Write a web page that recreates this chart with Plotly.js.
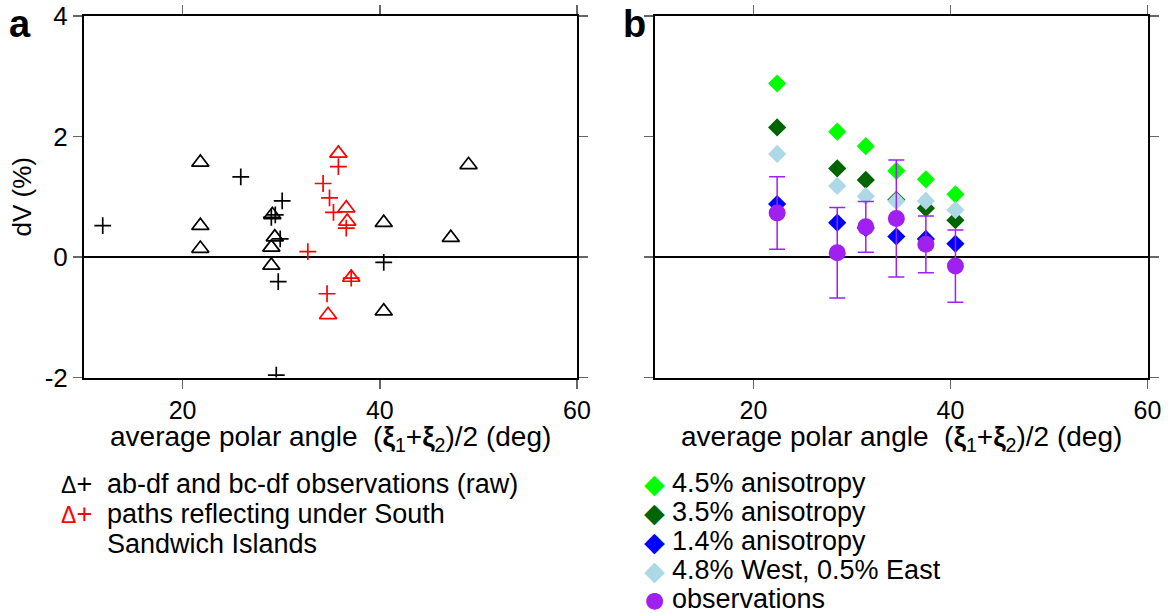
<!DOCTYPE html>
<html>
<head>
<meta charset="utf-8">
<script src="https://cdn.plot.ly/plotly-3.0.1.min.js"></script>
<style>html,body{margin:0;padding:0;background:#fff;}#chart{width:1169px;height:613px;}</style>
</head>
<body>
<div id="chart"></div>
<script>
// Panel a: raw observations
var blackTriX = [21.8, 21.8, 21.8, 29.1, 29.35, 29.0, 29.0, 40.4, 40.4, 49.0, 47.2];
var blackTriY = [1.57, 0.52, 0.14, 0.70, 0.33, 0.16, -0.14, 0.57, -0.90, 1.53, 0.32];
var blackPlusX = [11.9, 25.9, 30.1, 29.0, 29.4, 29.9, 29.7, 40.4, 29.5];
var blackPlusY = [0.52, 1.33, 0.93, 0.66, 0.70, 0.30, -0.41, -0.09, -1.96];
var redTriX = [35.8, 36.6, 36.7, 37.1, 34.75];
var redTriY = [1.72, 0.81, 0.59, -0.34, -0.96];
var redPlusX = [35.8, 34.25, 34.9, 35.3, 36.6, 32.7, 37.1, 34.65];
var redPlusY = [1.50, 1.22, 0.98, 0.74, 0.48, 0.09, -0.35, -0.61];

// Panel b: models and binned observations
var angleB = [22.4, 28.5, 31.4, 34.5, 37.5, 40.5];
var aniso45 = [2.88, 2.08, 1.84, 1.43, 1.29, 1.04];
var aniso35 = [2.15, 1.47, 1.28, 0.95, 0.81, 0.61];
var westEast = [1.71, 1.18, 1.01, 0.93, 0.93, 0.78];
var aniso14 = [0.88, 0.57, 0.48, 0.34, 0.30, 0.22];
var obs = [0.73, 0.07, 0.50, 0.64, 0.21, -0.15];
var obsErr = [0.60, 0.75, 0.42, 0.97, 0.47, 0.60];

var xTickVals = [20, 40, 60];
var yTickVals = [-2, 0, 2, 4];
var legendA = ['ab-df and bc-df observations (raw)', 'paths reflecting under South', 'Sandwich Islands'];
var legendB = ['4.5% anisotropy', '3.5% anisotropy', '1.4% anisotropy', '4.8% West, 0.5% East', 'observations'];
var colorsB = ['#00ff00', '#006400', '#0000ff', '#add8e6', '#a020f0'];

var FONT = 'Liberation Sans, Arial, Helvetica, sans-serif';
var W = 1169, H = 613;
function px(x){return x / W;}
function py(y){return 1 - y / H;}

function tri(x, y, c){
  return {x:x, y:y, xaxis:'x', yaxis:'y', type:'scatter', mode:'markers', showlegend:false,
    marker:{symbol:'triangle-up-open', size:15, color:c, line:{color:c, width:1.7}}};
}
function plus(x, y, c){
  return {x:x, y:y, xaxis:'x', yaxis:'y', type:'scatter', mode:'markers', showlegend:false,
    marker:{symbol:'cross-thin-open', size:12, color:c, line:{color:c, width:1.7}}};
}
function dia(y, c){
  return {x:angleB, y:y, xaxis:'x2', yaxis:'y2', type:'scatter', mode:'markers', showlegend:false,
    marker:{symbol:'diamond', size:14, color:c, line:{width:0}}};
}

var traces = [
  tri(blackTriX, blackTriY, '#000'),
  plus(blackPlusX, blackPlusY, '#000'),
  tri(redTriX, redTriY, '#ff0000'),
  plus(redPlusX, redPlusY, '#ff0000'),
  dia(aniso45, colorsB[0]),
  dia(aniso35, colorsB[1]),
  dia(westEast, colorsB[3]),
  dia(aniso14, colorsB[2]),
  {x:angleB, y:obs, xaxis:'x2', yaxis:'y2', type:'scatter', mode:'markers', showlegend:false,
   error_y:{type:'data', array:obsErr, visible:true, color:colorsB[4], thickness:1.5, width:8},
   marker:{symbol:'circle', size:17, color:colorsB[4], line:{width:0}}}
];

var XI = '<b>ξ</b>';
var XTITLE = 'average polar angle  (' + XI + '<sub>1</sub>+' + XI + '<sub>2</sub>)/2 (deg)';

function xax(domain){
  return {domain:domain, range:[10,60], tickvals:xTickVals, ticktext:xTickVals.map(String),
    ticks:'outside', ticklen:9, tickwidth:1.5, tickcolor:'#666',
    showline:true, linewidth:2, linecolor:'#000', mirror:'allticks',
    showgrid:false, zeroline:false, tickfont:{family:FONT, size:25, color:'#000'},
    fixedrange:true};
}
function yax(domain, anchor, labels){
  return {domain:domain, anchor:anchor, range:[-2,4], tickvals:yTickVals, ticktext:yTickVals.map(String),
    ticks:'outside', ticklen:9, tickwidth:1.5, tickcolor:'#666',
    showline:true, linewidth:2, linecolor:'#000', mirror:'allticks',
    showgrid:false, zeroline:true, zerolinecolor:'#000', zerolinewidth:1.5,
    showticklabels:labels, tickfont:{family:FONT, size:26, color:'#000'},
    fixedrange:true};
}

var yDom = [py(377.5), py(16)];
var layout = {
  width:W, height:H, margin:{l:0, r:0, t:0, b:0},
  paper_bgcolor:'#fff', plot_bgcolor:'#fff',
  font:{family:FONT, size:26, color:'#000'},
  xaxis: Object.assign(xax([px(84), px(577)]), {anchor:'y'}),
  yaxis: Object.assign(yax(yDom, 'x', true), {title:{text:'dV (%)', font:{family:FONT, size:26, color:'#000'}, standoff:6}}),
  xaxis2: Object.assign(xax([px(655), px(1147.5)]), {anchor:'y2'}),
  yaxis2: yax(yDom, 'x2', false),
  annotations: [],
  showlegend:false
};

var ann = layout.annotations;
function addText(x, y, text, opts){
  var a = Object.assign({xref:'paper', yref:'paper', x:px(x), y:py(y), text:text, showarrow:false,
    xanchor:'left', yanchor:'middle', align:'left', font:{family:FONT, size:27, color:'#000'}}, opts || {});
  ann.push(a);
}
// x-axis titles
addText(330.5, 438, XTITLE, {xanchor:'center', font:{family:FONT, size:28, color:'#000'}});
addText(901, 438, XTITLE, {xanchor:'center', font:{family:FONT, size:28, color:'#000'}});

// panel letters
addText(20, 24, '<b>a</b>', {xanchor:'center', font:{family:FONT, size:38, color:'#000'}});
addText(634, 24, '<b>b</b>', {xanchor:'center', font:{family:FONT, size:38, color:'#000'}});

// legend a
var rowA = [484, 514, 544];
addText(59, rowA[0], '<span style="font-size:23px">Δ</span>+', {font:{family:FONT, size:27, color:'#000'}});
addText(59, rowA[1], '<span style="font-size:23px">Δ</span>+', {font:{family:FONT, size:27, color:'#ff0000'}});
for (var i = 0; i < legendA.length; i++) addText(105, rowA[i], legendA[i]);

// legend b
var rowB = [483, 512, 541, 570, 599];
var symB = ['◆', '◆', '◆', '◆', '●'];
for (var j = 0; j < legendB.length; j++) {
  addText(654, rowB[j], symB[j], {xanchor:'center', font:{family:'DejaVu Sans', size: j < 4 ? 27 : 22, color:colorsB[j]}});
  addText(670, rowB[j], legendB[j]);
}

Plotly.newPlot('chart', traces, layout, {staticPlot:true, displayModeBar:false});
</script>
</body>
</html>
